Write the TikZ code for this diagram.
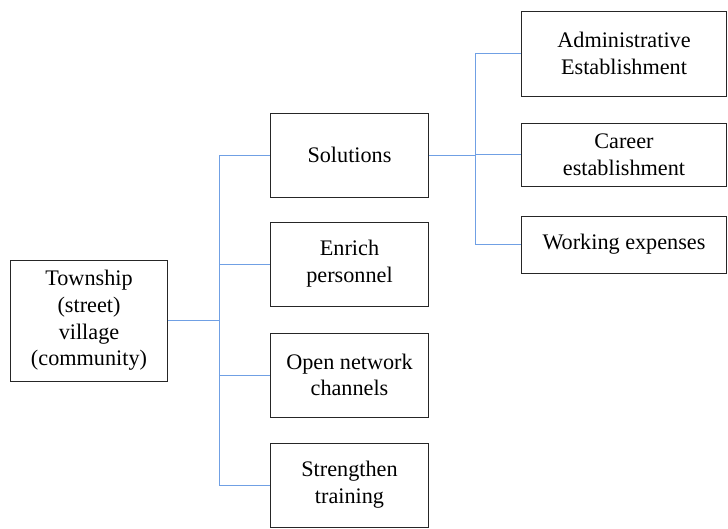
\documentclass[tikz,border=0pt]{standalone}
\usepackage{fontspec}
\setmainfont{Liberation Serif}
\definecolor{linkblue}{RGB}{112,160,228}
\tikzset{
  box/.style={draw=black!85,line width=0.7pt,align=center,inner sep=2pt,
    font=\fontsize{15.8}{19}\selectfont},
  link/.style={draw=linkblue,line width=0.6pt}
}
\begin{document}
\begin{tikzpicture}[x=0.025cm,y=-0.025cm]
	\useasboundingbox (0,0) rectangle (728,528);
	% left box
	\node[box,minimum width=3.9cm,minimum height=3.025cm] (town) at (89,320.5) {Township\\(street)\\village\\(community)};
	% middle column
	\node[box,minimum width=3.925cm,minimum height=2.1cm] (sol) at (349.5,155) {Solutions};
	\node[box,minimum width=3.925cm,minimum height=2.1cm] (enr) at (349.5,264) {Enrich\\personnel};
	\node[box,minimum width=3.925cm,minimum height=2.1cm] (net) at (349.5,375) {Open network\\channels};
	\node[box,minimum width=3.925cm,minimum height=2.1cm] (trn) at (349.5,485) {Strengthen\\training};
	% right column
	\node[box,minimum width=5.1cm,minimum height=2.125cm] (adm) at (624,53.5) {Administrative\\Establishment};
	\node[box,minimum width=5.1cm,minimum height=1.575cm] (car) at (624,154.5) {Career\\establishment};
	\node[box,minimum width=5.1cm,minimum height=1.425cm] (wrk) at (624,244.5) {Working expenses};
	% connectors
	\coordinate (jl) at (219,320.5);
	\coordinate (jr) at (475,155);
	\draw[link] (town.east) -- (jl);
	\draw[link] (jl |- sol.west) -- (jl |- trn.west);
	\foreach \n in {sol,enr,net,trn}
		\draw[link] (jl |- \n.west) -- (\n.west);
	\draw[link] (sol.east) -- (jr);
	\draw[link] (jr |- adm.west) -- (jr |- wrk.west);
	\foreach \n in {adm,car,wrk}
		\draw[link] (jr |- \n.west) -- (\n.west);
\end{tikzpicture}
\end{document}
